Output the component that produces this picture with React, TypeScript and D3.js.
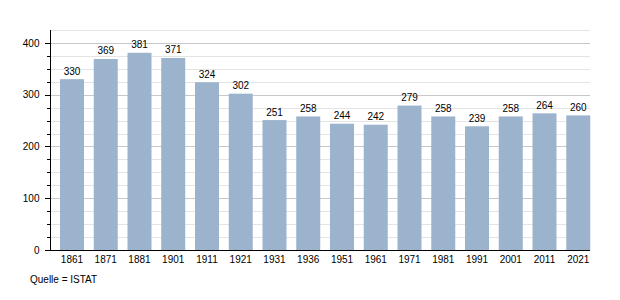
import React from "react";
import * as d3 from "d3";

const years = ["1861","1871","1881","1901","1911","1921","1931","1936","1951","1961","1971","1981","1991","2001","2011","2021"];
const population = [330,369,381,371,324,302,251,258,244,242,279,258,239,258,264,260];
const majorTicks = [0,100,200,300,400];
const gridStep = 25;
const yMax = 425;
const source = "Quelle = ISTAT";

export default function App() {
  const W = 620, H = 300;
  const left = 50, right = 590, top = 30, bottom = 250;
  const x = d3.scaleBand<string>().domain(years).range([60, 590.25]).paddingInner(0.289).paddingOuter(0).align(0);
  const y = d3.scaleLinear().domain([0, yMax]).range([bottom, top]);
  const grid = d3.range(gridStep, yMax + 1, gridStep);
  const font = "'Liberation Sans', Arial, sans-serif";
  return (
    <svg width={W} height={H} style={{ position: "absolute", left: 0, top: 0, background: "#fff" }} fontFamily={font}>
      {grid.map((g) => (
        <line key={g} x1={left} x2={right} y1={Math.round(y(g)) + 0.5} y2={Math.round(y(g)) + 0.5}
          stroke={g % 100 === 0 ? "#c8c8c8" : "#e4e4e4"} strokeWidth={1} />
      ))}
      {years.map((yr, i) => (
        <g key={yr}>
          <rect x={x(yr)} y={y(population[i])} width={x.bandwidth()} height={bottom - y(population[i])} fill="#9cb3cd" />
          <text x={(x(yr) as number) + x.bandwidth() / 2} y={y(population[i]) - 4.5} textAnchor="middle" fontSize={10} fill="#000">{population[i]}</text>
          <text x={(x(yr) as number) + x.bandwidth() / 2} y={263} textAnchor="middle" fontSize={10} fill="#000">{yr}</text>
        </g>
      ))}
      {grid.filter((g) => g % 100 !== 0 && g < yMax).map((g) => (
        <line key={"m" + g} x1={47} x2={left} y1={Math.round(y(g)) + 0.5} y2={Math.round(y(g)) + 0.5} stroke="#000" />
      ))}
      {majorTicks.map((t) => (
        <g key={"t" + t}>
          <line x1={45} x2={left} y1={Math.round(y(t)) + 0.5} y2={Math.round(y(t)) + 0.5} stroke="#000" />
          <text x={39.5} y={y(t) + 3.6} textAnchor="end" fontSize={10} fill="#000">{t}</text>
        </g>
      ))}
      <line x1={left + 0.5} x2={left + 0.5} y1={top} y2={bottom} stroke="#000" />
      <line x1={left} x2={right} y1={bottom + 0.5} y2={bottom + 0.5} stroke="#000" />
      <text x={30} y={283} fontSize={10} fill="#000">{source}</text>
    </svg>
  );
}
